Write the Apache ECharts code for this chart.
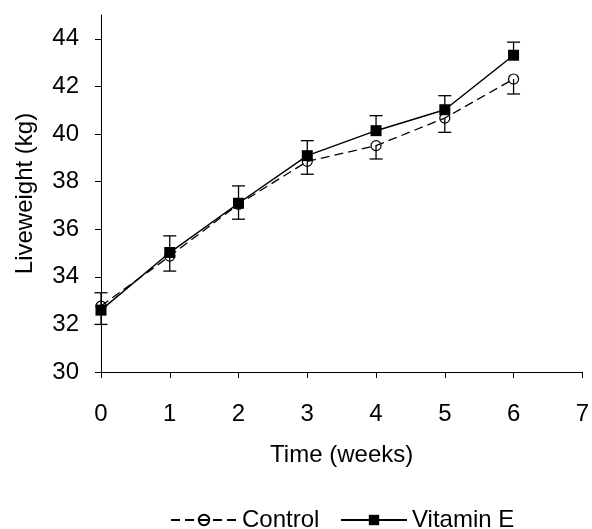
<!DOCTYPE html>
<html>
<head>
<meta charset="utf-8">
<script src="https://cdn.jsdelivr.net/npm/echarts@6/dist/echarts.min.js"></script>
<style>html,body{margin:0;padding:0;background:#fff;}#c{width:592px;height:529px;}</style>
</head>
<body>
<div id="c"></div>
<script>
const weeks = [0, 1, 2, 3, 4, 5, 6];
const control = [32.77, 34.87, 37.05, 38.85, 39.51, 40.67, 42.31];
const vitaminE = [32.60, 35.02, 37.09, 39.09, 40.14, 41.02, 43.31];
const controlSE = [0.77, 0.63, 0.63, 0.54, 0.56, 0.60, 0.63];
const vitaminSE = [0.73, 0.70, 0.73, 0.63, 0.63, 0.59, 0.55];
const yTicks = [30, 32, 34, 36, 38, 40, 42, 44];

const FONT = 'Liberation Sans, Arial, sans-serif';
const FS = 24;

function errRender(params, api) {
  const x = api.value(0), y0 = api.value(1), y1 = api.value(2);
  const p0 = api.coord([x, y0]);
  const p1 = api.coord([x, y1]);
  const hw = 6.5;
  const st = { stroke: '#000', lineWidth: 1.3, fill: null };
  return {
    type: 'group',
    children: [
      { type: 'line', shape: { x1: p0[0], y1: p0[1], x2: p1[0], y2: p1[1] }, style: st },
      { type: 'line', shape: { x1: p1[0] - hw, y1: p1[1], x2: p1[0] + hw, y2: p1[1] }, style: st }
    ]
  };
}

const chart = echarts.init(document.getElementById('c'));
chart.setOption({
  animation: false,
  backgroundColor: '#fff',
  textStyle: { fontFamily: FONT },
  grid: { left: 101, right: 9, top: 15, bottom: 157, containLabel: false },
  xAxis: {
    type: 'value', min: 0, max: 7, interval: 1,
    name: 'Time (weeks)', nameLocation: 'middle', nameGap: 71,
    nameTextStyle: { fontSize: FS, color: '#000', fontFamily: FONT },
    axisLine: { lineStyle: { color: '#000', width: 1 } },
    axisTick: { show: true, length: 6, lineStyle: { color: '#000' } },
    axisLabel: { fontSize: FS, color: '#000', margin: 30, fontFamily: FONT },
    splitLine: { show: false }
  },
  yAxis: {
    type: 'value', min: 30, max: 45, interval: 2,
    name: 'Liveweight (kg)', nameLocation: 'middle', nameGap: 64,
    nameTextStyle: { fontSize: FS, color: '#000', fontFamily: FONT },
    axisLine: { show: true, lineStyle: { color: '#000', width: 1 } },
    axisTick: { show: true, length: 6, lineStyle: { color: '#000' }, customValues: yTicks },
    axisLabel: { fontSize: FS, color: '#000', margin: 22, fontFamily: FONT, customValues: yTicks },
    splitLine: { show: false }
  },
  legend: [
    {
      data: ['Control'], left: 165, top: 503, itemWidth: 66, itemHeight: 13,
      textStyle: { fontSize: FS, color: '#000', fontFamily: FONT }
    },
    {
      data: ['Vitamin E'], left: 335, top: 503, itemWidth: 66, itemHeight: 13,
      textStyle: { fontSize: FS, color: '#000', fontFamily: FONT }
    }
  ],
  series: [
    {
      name: 'ctrlErr', type: 'custom', renderItem: errRender,
      encode: { x: 0, y: [1, 2] }, z: 1,
      data: weeks.map((w, i) => [w, control[i], control[i] - controlSE[i]])
    },
    {
      name: 'vitErr', type: 'custom', renderItem: errRender,
      encode: { x: 0, y: [1, 2] }, z: 1,
      data: weeks.map((w, i) => [w, vitaminE[i], vitaminE[i] + vitaminSE[i]])
    },
    {
      name: 'Control', type: 'line', z: 3,
      data: weeks.map((w, i) => [w, control[i]]),
      symbol: 'circle', symbolSize: 10,
      itemStyle: { color: 'rgba(255,255,255,0)', borderColor: '#000', borderWidth: 1.2 },
      lineStyle: { color: '#000', width: 1.3, type: [9, 5] }
    },
    {
      name: 'Vitamin E', type: 'line', z: 2,
      data: weeks.map((w, i) => [w, vitaminE[i]]),
      symbol: 'rect', symbolSize: 11,
      itemStyle: { color: '#000', borderColor: '#000', borderWidth: 0 },
      lineStyle: { color: '#000', width: 1.5, type: 'solid' }
    }
  ]
});
</script>
</body>
</html>
